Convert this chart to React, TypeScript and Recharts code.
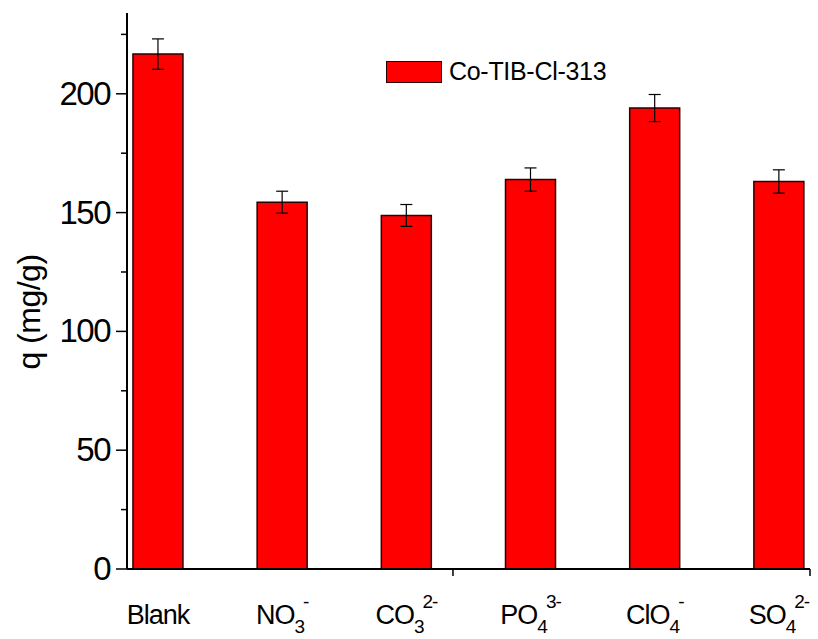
import { BarChart, Bar, XAxis, YAxis, ErrorBar, Legend, Label } from 'recharts';

const ionBase = ['Blank', 'NO', 'CO', 'PO', 'ClO', 'SO'];
const ionSub = ['', '3', '3', '4', '4', '4'];
const ionSup = ['', '-', '2-', '3-', '-', '2-'];

// q (mg/g) and its error
const qValues = [216.7, 154.4, 148.8, 163.9, 194.0, 163.1];
const qErrors = [6.4, 4.6, 4.6, 4.9, 5.7, 4.9];

const yTicks = [0, 25, 50, 75, 100, 125, 150, 175, 200, 225];
const xTicks = [1, 2, 3, 3.375, 4, 5, 6, 6.25];

const FONT = '"Liberation Sans", Arial, sans-serif';
const AXIS = '#000';

const data = qValues.map((q, i) => ({ x: i + 1, q, err: qErrors[i] }));

function XTick({ x, y, payload }: any) {
  const v = payload.value;
  if (!Number.isInteger(v)) {
    return <line x1={x} y1={y} x2={x} y2={y + 7} stroke={AXIS} strokeWidth={1.5} />;
  }
  const i = v - 1;
  return (
    <text x={x} y={y + 55} textAnchor="middle" fontSize={27} fontFamily={FONT} fill="#000" letterSpacing={-1}>
      <tspan>{ionBase[i]}</tspan>
      {ionSub[i] && (
        <tspan fontSize={19} dy={9}>
          {ionSub[i]}
        </tspan>
      )}
      {ionSup[i] && (
        <tspan fontSize={19} dy={-25} dx={-1}>
          {ionSup[i]}
        </tspan>
      )}
    </text>
  );
}

function YTick({ x, y, payload }: any) {
  const v = payload.value;
  if (v % 50 !== 0) {
    return <line x1={x - 6} y1={y} x2={x} y2={y} stroke={AXIS} strokeWidth={1.5} />;
  }
  return (
    <g>
      <line x1={x - 11} y1={y} x2={x} y2={y} stroke={AXIS} strokeWidth={1.5} />
      <text x={x - 17} y={y + 11} textAnchor="end" fontSize={33} fontFamily={FONT} fill="#000" letterSpacing={-1.5}>
        {v}
      </text>
    </g>
  );
}

function LegendBox() {
  return (
    <div style={{ display: 'flex', alignItems: 'center', fontFamily: FONT, whiteSpace: 'nowrap' }}>
      <div style={{ width: 54, height: 20, background: '#ff0000', border: '1px solid #2b0000' }} />
      <span style={{ marginLeft: 7, fontSize: 25, color: '#000', letterSpacing: -0.3 }}>Co-TIB-Cl-313</span>
    </div>
  );
}

export default function App() {
  return (
    <div style={{ position: 'absolute', left: 0, top: 0, background: '#fff' }}>
      <BarChart width={818} height={639} data={data} margin={{ top: 13, right: 8, bottom: 0, left: 0 }}>
        <XAxis
          xAxisId={0}
          dataKey="x"
          type="number"
          domain={[0.75, 6.25]}
          ticks={xTicks}
          interval={0}
          height={70}
          tickSize={0}
          tickMargin={0}
          tickLine={false}
          tick={<XTick />}
          axisLine={{ stroke: AXIS, strokeWidth: 2 }}
        />
        <XAxis xAxisId="top" orientation="top" type="number" domain={[0.75, 6.25]} height={0} tick={false} tickLine={false} axisLine={{ stroke: AXIS, strokeWidth: 2 }} />
        <YAxis
          yAxisId={0}
          type="number"
          domain={[0, 234]}
          ticks={yTicks}
          interval={0}
          width={127}
          tickSize={0}
          tickMargin={0}
          tickLine={false}
          tick={<YTick />}
          axisLine={{ stroke: AXIS, strokeWidth: 2 }}
        >
          <Label
            content={() => (
              <text x={40} y={312} transform="rotate(-90 40 312)" textAnchor="middle" fontSize={32} fontFamily={FONT} fill="#000" letterSpacing={-0.5}>
                q (mg/g)
              </text>
            )}
          />
        </YAxis>
        <YAxis yAxisId="right" orientation="right" domain={[0, 234]} width={0} tick={false} tickLine={false} axisLine={{ stroke: AXIS, strokeWidth: 2 }} />
        <Legend
          layout="vertical"
          align="center"
          verticalAlign="middle"
          wrapperStyle={{ left: 386, top: 57, width: 'auto', height: 'auto' }}
          content={() => <LegendBox />}
        />
        <Bar dataKey="q" name="Co-TIB-Cl-313" fill="#ff0000" stroke="#2b0000" strokeWidth={1.5} barSize={50} isAnimationActive={false}>
          <ErrorBar dataKey="err" width={6} stroke="#000" strokeWidth={1.2} />
        </Bar>
      </BarChart>
    </div>
  );
}
